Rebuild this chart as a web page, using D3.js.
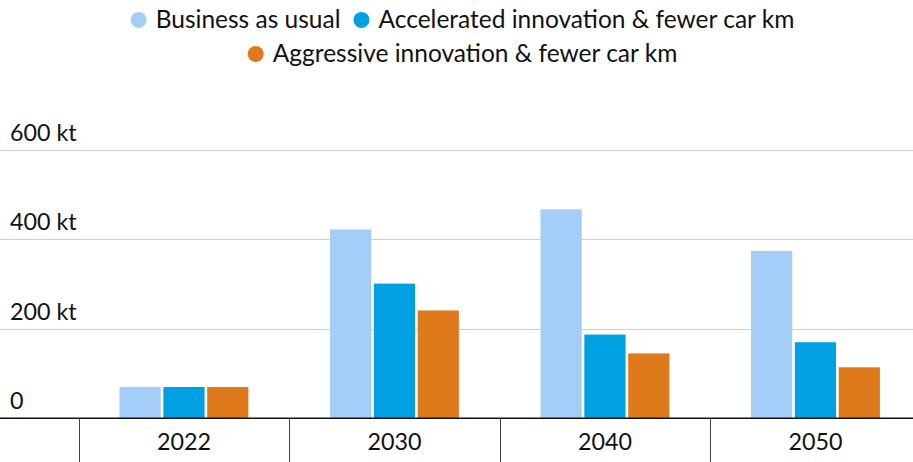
<!DOCTYPE html>
<html><head><meta charset="utf-8">
<script src="https://cdn.jsdelivr.net/npm/d3@7"></script>
<style>
html,body{margin:0;padding:0;background:#fff;}
svg{display:block;font-family:Lato,"Noto Sans",sans-serif;}
</style></head>
<body><svg id="c" width="913" height="462"></svg>
<script>
const categories = ["2022","2030","2040","2050"];
const seriesNames = ["Business as usual","Accelerated innovation & fewer car km","Aggressive innovation & fewer car km"];
const businessAsUsual = [70, 422, 467, 374];
const accelerated = [70, 301, 187, 170];
const aggressive = [70, 241, 145, 114];
const yTicks = [0, 200, 400, 600];
const yTickLabels = ["0","200 kt","400 kt","600 kt"];
const colors = ["#a4cdf7","#00a1e2","#de7a1c"];

const seriesValues = [businessAsUsual, accelerated, aggressive];
const svg = d3.select("#c");
const W = 913, H = 462;
const y = d3.scaleLinear().domain([0,600]).range([418.3, 149.8]);
const x0 = d3.scaleBand().domain(categories).range([78.7, 920.7]).paddingInner(0).paddingOuter(0);
const bw = x0.bandwidth();
const x1 = d3.scaleBand().domain(seriesNames).range([40.8, bw-40.8]).paddingInner(0.06).paddingOuter(0);

// gridlines
svg.append("g").selectAll("line").data(yTicks.filter(d=>d>0)).join("line")
  .attr("x1",0).attr("x2",W).attr("y1",d=>Math.round(y(d))+0.5).attr("y2",d=>Math.round(y(d))+0.5)
  .attr("stroke","#cfcfcf").attr("stroke-width",1);

// y labels
svg.append("g").selectAll("text").data(yTicks).join("text")
  .attr("x",10).attr("y",d=>y(d)-9)
  .attr("font-size",23.3).attr("fill","#111")
  .text((d,i)=>yTickLabels[i]);

// bars
const g = svg.append("g");
categories.forEach((c,ci)=>{
  seriesNames.forEach((s,si)=>{
    g.append("rect")
      .attr("x", x0(c)+x1(s)).attr("width", x1.bandwidth())
      .attr("y", y(seriesValues[si][ci])).attr("height", y(0)-y(seriesValues[si][ci]))
      .attr("fill", colors[si]);
  });
});

// x axis
const ax = svg.append("g").attr("transform",`translate(0,${y(0)})`);
ax.append("line").attr("x1",0).attr("x2",W).attr("y1",0).attr("y2",0).attr("stroke","#111").attr("stroke-width",1.6);
ax.selectAll("line.sep").data(categories).join("line").attr("class","sep")
  .attr("x1",d=>Math.round(x0(d))+0.5).attr("x2",d=>Math.round(x0(d))+0.5)
  .attr("y1",0).attr("y2",H).attr("stroke","#444").attr("stroke-width",1);
ax.selectAll("text.lab").data(categories).join("text").attr("class","lab")
  .attr("x",d=>x0(d)+bw/2).attr("y",32).attr("text-anchor","middle")
  .attr("font-size",23.3).attr("fill","#111").text(d=>d);

// legend
const legendRows = [[0,1],[2]];
const lg = svg.append("g");
legendRows.forEach((row,ri)=>{
  const rowG = lg.append("g");
  let xpos = 0;
  row.forEach(si=>{
    rowG.append("circle").attr("cx",xpos+8).attr("cy",0).attr("r",8).attr("fill",colors[si]);
    const t = rowG.append("text").attr("x",xpos+25).attr("y",8).attr("font-size",24.5).attr("fill","#111").text(seriesNames[si]);
    xpos += 25 + t.node().getComputedTextLength() + 13;
  });
  const total = xpos - 13;
  rowG.attr("transform",`translate(${(W-total)/2+6},${20+ri*34})`);
});
</script></body></html>
